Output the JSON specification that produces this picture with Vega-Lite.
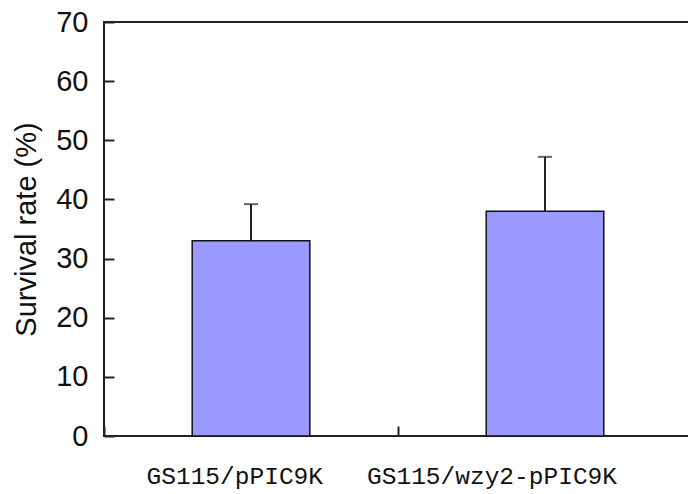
{
  "$schema": "https://vega.github.io/schema/vega-lite/v6.json",
  "autosize": "none",
  "width": 588,
  "height": 414,
  "padding": {"left": 104, "top": 22, "right": 0, "bottom": 58},
  "background": "white",
  "config": {
    "view": {"stroke": "#222", "strokeWidth": 2}
  },
  "data": {
    "values": [
      {"group": "GS115/pPIC9K", "rate": 33, "upper": 39.2},
      {"group": "GS115/wzy2-pPIC9K", "rate": 38, "upper": 47.2}
    ]
  },
  "encoding": {
    "x": {
      "field": "group",
      "type": "nominal",
      "sort": null,
      "scale": {"paddingInner": 0, "paddingOuter": 0},
      "axis": {
        "title": null,
        "labelAngle": 0,
        "domain": false,
        "bandPosition": 0,
        "tickSize": -10,
        "tickWidth": 2,
        "tickColor": "#222",
        "labelFont": "Liberation Mono",
        "labelFontSize": 24.5,
        "labelColor": "#111",
        "labelAlign": "right",
        "labelBaseline": "top",
        "labelOffset": 72,
        "labelPadding": 38,
        "labelLimit": 400
      }
    }
  },
  "layer": [
    {
      "mark": {"type": "bar", "fill": "#9999ff", "stroke": "#111", "strokeWidth": 1.5, "width": {"band": 0.4}},
      "encoding": {
        "y": {
          "field": "rate",
          "type": "quantitative",
          "scale": {"domain": [0, 70], "nice": false},
          "axis": {
            "title": "Survival rate (%)",
            "titleFont": "Liberation Sans",
            "titleFontSize": 29,
            "titleFontWeight": "normal",
            "titleColor": "#111",
            "titlePadding": 14,
            "values": [0, 10, 20, 30, 40, 50, 60, 70],
            "grid": false,
            "domain": false,
            "tickSize": -10,
            "tickWidth": 2,
            "tickColor": "#222",
            "labelFont": "Liberation Sans",
            "labelFontSize": 29,
            "labelColor": "#111",
            "labelPadding": 26
          }
        }
      }
    },
    {
      "mark": {"type": "rule", "color": "#222", "strokeWidth": 2},
      "encoding": {
        "y": {"field": "rate", "type": "quantitative"},
        "y2": {"field": "upper"}
      }
    },
    {
      "mark": {"type": "tick", "color": "#222", "thickness": 2, "size": 14, "orient": "horizontal"},
      "encoding": {
        "y": {"field": "upper", "type": "quantitative"}
      }
    }
  ]
}
